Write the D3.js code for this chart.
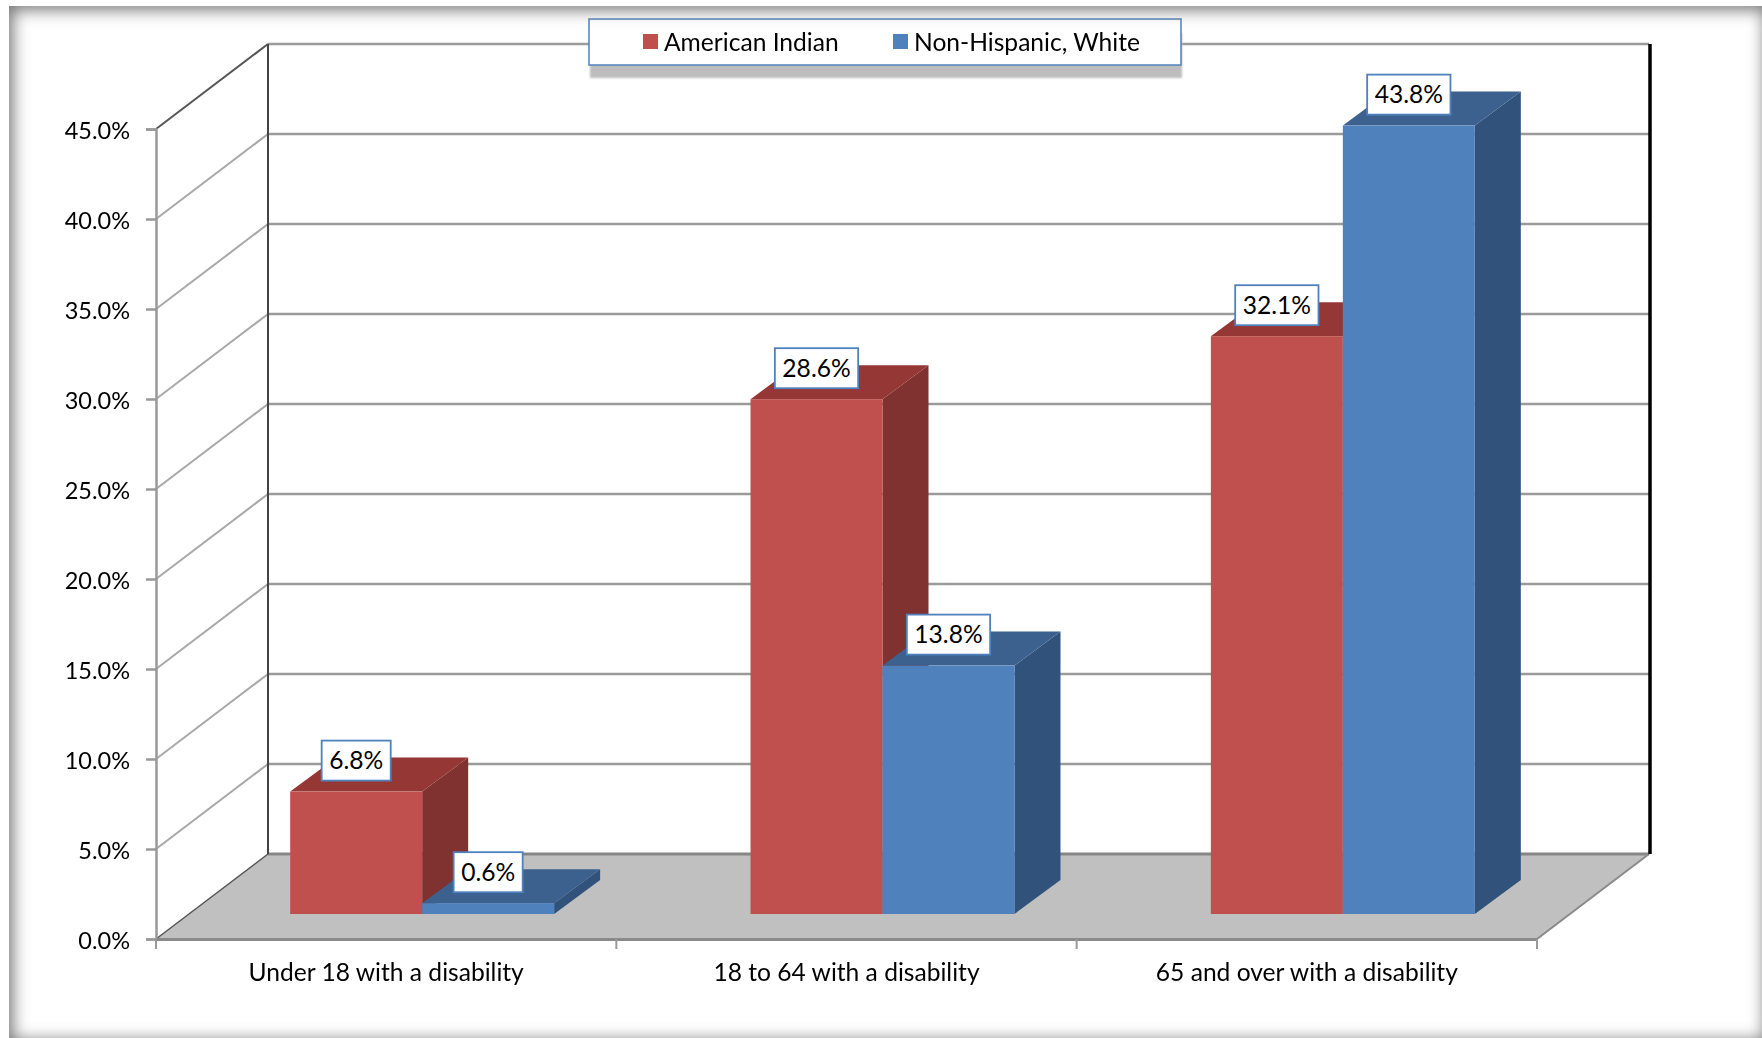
<!DOCTYPE html>
<html>
<head>
<meta charset="utf-8">
<script src="https://cdn.jsdelivr.net/npm/d3@7"></script>
<style>
  html, body { margin: 0; padding: 0; background: #fff; }
  #chart { position: relative; width: 1762px; height: 1038px; overflow: hidden; }
  svg { display: block; font-family: Lato, "Noto Sans", sans-serif; filter: blur(0.5px); }
  #frame { position: absolute; left: 9px; top: 6px; width: 1759px; height: 1038px;
    box-shadow: inset 0 0 16px 4px #787878; pointer-events: none; }
</style>
</head>
<body>
<div id="chart"></div>
<script>
// data
const categories = ['Under 18 with a disability', '18 to 64 with a disability', '65 and over with a disability'];
const seriesNames = ['American Indian', 'Non-Hispanic, White'];
const americanIndian = [6.8, 28.6, 32.1];
const nonHispanicWhite = [0.6, 13.8, 43.8];
const yTicks = [0, 5, 10, 15, 20, 25, 30, 35, 40, 45];

const colors = [
  { front: '#c0504d', top: '#953735', side: '#7f3230' },
  { front: '#4f81bd', top: '#3c618f', side: '#31527a' }
];

const width = 1762, height = 1038;
const chart = d3.select('#chart');
const svg = chart.append('svg').attr('width', width).attr('height', height);
chart.append('div').attr('id', 'frame');

// front plane of the 3d box, and how far the back wall is shifted from it
const plotLeft = 156, plotRight = 1537, plotBottom = 939, plotTop = 129;
const depthX = 112, depthY = -85;

const y = d3.scaleLinear().domain([0, 45]).range([plotBottom, plotTop]);
const x = d3.scaleBand().domain(categories).range([plotLeft, plotRight]);
const inner = d3.scaleBand().domain(seriesNames).range([0, x.bandwidth()])
  .paddingInner(0).paddingOuter(0.744);

const pts = a => a.map(p => p.join(',')).join(' ');

// back wall
const wall = svg.append('g');
wall.selectAll('line.grid').data(yTicks.slice(1)).join('line').attr('class', 'grid')
  .attr('x1', plotLeft + depthX).attr('x2', plotRight + depthX)
  .attr('y1', d => y(d) + depthY).attr('y2', d => y(d) + depthY)
  .attr('stroke', '#9a9a9a').attr('stroke-width', 2.5);
wall.selectAll('line.side').data(yTicks.slice(1)).join('line').attr('class', 'side')
  .attr('x1', plotLeft).attr('x2', plotLeft + depthX)
  .attr('y1', d => y(d)).attr('y2', d => y(d) + depthY)
  .attr('stroke', d => d === 45 ? '#555' : '#a8a8a8').attr('stroke-width', 2);

// floor
svg.append('polygon')
  .attr('points', pts([[plotLeft, plotBottom], [plotLeft + depthX, plotBottom + depthY], [plotRight + depthX, plotBottom + depthY], [plotRight, plotBottom]]))
  .attr('fill', '#c0c0c0');
svg.append('line').attr('x1', plotLeft + depthX).attr('x2', plotRight + depthX)
  .attr('y1', plotBottom + depthY).attr('y2', plotBottom + depthY)
  .attr('stroke', '#868686').attr('stroke-width', 3);
svg.append('line').attr('x1', plotLeft).attr('x2', plotLeft + depthX)
  .attr('y1', plotBottom).attr('y2', plotBottom + depthY)
  .attr('stroke', '#555').attr('stroke-width', 1.5);
svg.append('line').attr('x1', plotRight).attr('x2', plotRight + depthX)
  .attr('y1', plotBottom).attr('y2', plotBottom + depthY)
  .attr('stroke', '#8a8a8a').attr('stroke-width', 2);

// back verticals
svg.append('line').attr('x1', plotLeft + depthX).attr('x2', plotLeft + depthX)
  .attr('y1', plotTop + depthY).attr('y2', plotBottom + depthY)
  .attr('stroke', '#444').attr('stroke-width', 2);
svg.append('line').attr('x1', plotRight + depthX + 1).attr('x2', plotRight + depthX + 1)
  .attr('y1', plotTop + depthY).attr('y2', plotBottom + depthY)
  .attr('stroke', '#000').attr('stroke-width', 3.5);

// value axis
const yAxis = svg.append('g').attr('transform', `translate(${plotLeft},0)`)
  .call(d3.axisLeft(y).tickValues(yTicks).tickSize(10).tickPadding(16).tickFormat(d => d.toFixed(1) + '%'));
yAxis.selectAll('path, line').attr('stroke', '#999').attr('stroke-width', 2.5);
yAxis.selectAll('text').attr('font-size', 23.5).attr('fill', '#000').attr('y', 2);
yAxis.attr('font-family', null);

// category axis
const xAxis = svg.append('g').attr('transform', `translate(0,${plotBottom})`)
  .call(d3.axisBottom(x).tickSize(0).tickPadding(25));
xAxis.select('path').attr('stroke', '#8a8a8a').attr('stroke-width', 3);
xAxis.selectAll('text').attr('font-size', 24.6).attr('fill', '#000');
xAxis.attr('font-family', null);
svg.append('g').selectAll('line').data(d3.range(categories.length + 1)).join('line')
  .attr('x1', i => plotLeft + i * x.step()).attr('x2', i => plotLeft + i * x.step())
  .attr('y1', plotBottom).attr('y2', plotBottom + 10)
  .attr('stroke', '#999').attr('stroke-width', 2);

// bars, drawn from data through the scales
const rows = [];
categories.forEach((c, i) => {
  rows.push({ cat: c, s: 0, value: americanIndian[i] });
  rows.push({ cat: c, s: 1, value: nonHispanicWhite[i] });
});

// bar block sits inside the box depth
const nearX = 36, nearY = -25;
const barDepthX = 46, barDepthY = -34;

const barLeft = d => x(d.cat) + inner(seriesNames[d.s]) + nearX;

const bars = svg.append('g').selectAll('g').data(rows).join('g');
bars.each(function(d) {
  const g = d3.select(this);
  const x0 = barLeft(d);
  const x1 = x0 + inner.bandwidth();
  const yb = y(0) + nearY, yt = y(d.value) + nearY;
  g.append('polygon').attr('fill', colors[d.s].side)
    .attr('points', pts([[x1, yb], [x1 + barDepthX, yb + barDepthY], [x1 + barDepthX, yt + barDepthY], [x1, yt]]));
  g.append('polygon').attr('fill', colors[d.s].top)
    .attr('points', pts([[x0, yt], [x0 + barDepthX, yt + barDepthY], [x1 + barDepthX, yt + barDepthY], [x1, yt]]));
  g.append('rect').attr('fill', colors[d.s].front)
    .attr('x', x0).attr('y', yt).attr('width', x1 - x0).attr('height', yb - yt);
});

// data labels
const labels = svg.append('g').selectAll('g').data(rows).join('g')
  .attr('transform', d => `translate(${barLeft(d) + inner.bandwidth() / 2},${y(d.value) + nearY - 31})`);
labels.append('rect').attr('fill', '#fff').attr('stroke', '#4f81bd').attr('stroke-width', 1.8);
labels.append('text').attr('text-anchor', 'middle').attr('dy', '0.35em')
  .attr('font-size', 24.6).attr('fill', '#000')
  .text(d => d.value.toFixed(1) + '%');
labels.each(function() {
  const g = d3.select(this);
  const w = g.select('text').node().getComputedTextLength() + 15;
  g.select('rect').attr('x', -w / 2).attr('y', -20).attr('width', w).attr('height', 40);
});

// legend
const legend = svg.append('g').attr('transform', 'translate(589,19)');
legend.append('rect').attr('x', 1).attr('y', 14).attr('width', 592).attr('height', 45)
  .attr('fill', '#bdbdbd').style('filter', 'blur(1px)');
legend.append('rect').attr('width', 592).attr('height', 46)
  .attr('fill', '#fff').attr('stroke', '#4f81bd').attr('stroke-width', 1.5);
const legendX = d3.scaleOrdinal().domain(seriesNames).range([54, 304]);
const legendItem = legend.selectAll('g.item').data(seriesNames).join('g').attr('class', 'item')
  .attr('transform', d => `translate(${legendX(d)},23)`);
legendItem.append('rect').attr('y', -8).attr('width', 15).attr('height', 15)
  .attr('fill', (d, i) => colors[i].front);
legendItem.append('text').attr('x', 21).attr('dy', '0.35em')
  .attr('font-size', 24.6).attr('fill', '#000').text(d => d);
</script>
</body>
</html>
